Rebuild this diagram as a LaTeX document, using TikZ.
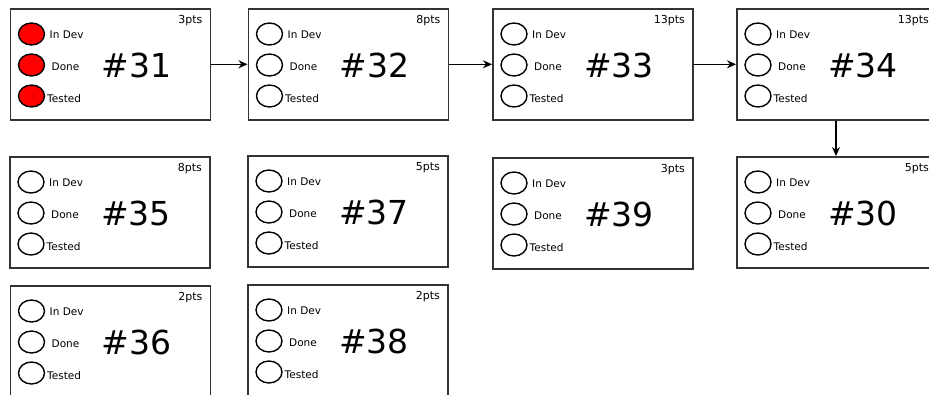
\documentclass[tikz,border=0pt]{standalone}
\usepackage{fontspec}
\setmainfont{DejaVu Sans}
\usetikzlibrary{arrows.meta,calc,shapes.geometric}
\tikzset{
  card/.style={draw=black!80, line width=1.6pt, fill=white, minimum width=200pt, minimum height=111pt, inner sep=0pt, anchor=north west},
  bubble/.style={draw=black, line width=1.4pt, ellipse, minimum width=26pt, minimum height=22pt, inner sep=0pt},
  stlabel/.style={font=\fontsize{10.5}{12}\selectfont, anchor=west, inner sep=0pt},
  numlabel/.style={font=\fontsize{33}{36}\selectfont, inner sep=0pt},
  ptslabel/.style={font=\fontsize{11}{13}\selectfont, anchor=east, inner sep=0pt},
  link/.style={draw=black, line width=1.3pt, -{Stealth[length=9pt,width=8pt]}}
}
\newcommand{\mycard}[6]{%
  \node[card] (#3) at (#1,#2) {};
  \node[bubble, fill=#6] (#3a) at ($(#3.north west)+(22,26)$) {};
  \node[bubble, fill=#6] (#3b) at ($(#3.north west)+(22,57)$) {};
  \node[bubble, fill=#6] (#3c) at ($(#3.north west)+(22,88)$) {};
  \node[stlabel] (#3ta) at ($(#3.north west)+(40,27)$) {In Dev};
  \node[stlabel] (#3tb) at ($(#3.north west)+(42,59)$) {Done};
  \node[stlabel] (#3tc) at ($(#3.north west)+(37.5,91)$) {Tested};
  \node[numlabel] (#3n) at ($(#3.north west)+(127,57)$) {\##4};
  \node[ptslabel] (#3p) at ($(#3.north west)+(193,13)$) {#5pts};
}
\begin{document}
\begin{tikzpicture}[x=1pt,y=-1pt]
\useasboundingbox (0,0) rectangle (929,394);
\mycard{9.5}{8}{c31}{31}{3}{red}
\mycard{247.5}{8}{c32}{32}{8}{white}
\mycard{492}{8}{c33}{33}{13}{white}
\mycard{736}{8}{c34}{34}{13}{white}
\mycard{9}{156}{c35}{35}{8}{white}
\mycard{247}{155}{c37}{37}{5}{white}
\mycard{492}{157}{c39}{39}{3}{white}
\mycard{736}{156}{c30}{30}{5}{white}
\mycard{9.5}{285}{c36}{36}{2}{white}
\mycard{247}{284}{c38}{38}{2}{white}
\draw[link] (c31.east) -- (c32.west);
\draw[link] (c32.east) -- (c33.west);
\draw[link] (c33.east) -- (c34.west);
\coordinate (s34) at ($(c34.south west)+(100,0)$);
\draw[link] (s34) -- (s34 |- c30.north);
\end{tikzpicture}
\end{document}
